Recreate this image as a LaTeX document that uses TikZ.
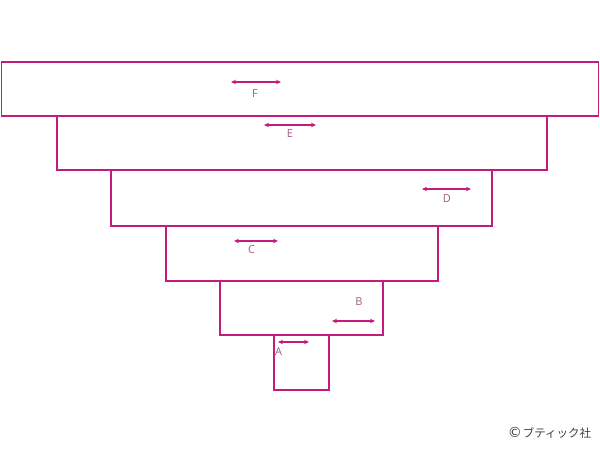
\documentclass[tikz,border=0pt]{standalone}
\usepackage{fontspec}
\setmainfont{Open Sans}
\newfontfamily\jpfont{Noto Sans CJK JP}
\newfontfamily\symfont{DejaVu Sans}
\usetikzlibrary{arrows.meta}
\definecolor{mag}{HTML}{C41C7C}
\definecolor{lab}{HTML}{A65A88}
\definecolor{cpr}{HTML}{404040}
\begin{document}
\begin{tikzpicture}[x=1pt,y=-1pt,
  tier/.style={draw=mag,line width=1.6pt,rectangle,inner sep=0pt,anchor=north west},
  dim/.style={draw=mag,line width=1.2pt,{Stealth[length=5pt,width=4.5pt]}-{Stealth[length=5pt,width=4.5pt]}},
  lbl/.style={text=lab,font=\fontsize{11}{11}\selectfont,inner sep=0pt}]
\useasboundingbox[fill=white] (0,0) rectangle (600,450);
% tiers
\node[tier,minimum width=597pt,minimum height=54pt] (tF) at (0.8,61) {};
\node[tier,minimum width=490pt,minimum height=54pt] (tE) at (56,115) {};
\node[tier,minimum width=381pt,minimum height=56pt] (tD) at (110,169) {};
\node[tier,minimum width=272pt,minimum height=55pt] (tC) at (165,225) {};
\node[tier,minimum width=163pt,minimum height=54pt] (tB) at (219,280) {};
\node[tier,minimum width=55pt,minimum height=55pt] (tA) at (273.3,334) {};
% arrows
\coordinate (f1) at (231,82); \coordinate (f2) at (281,82);
\coordinate (e1) at (264,125); \coordinate (e2) at (316,125);
\coordinate (d1) at (422,189); \coordinate (d2) at (471,189);
\coordinate (c1) at (234,241); \coordinate (c2) at (278,241);
\coordinate (b1) at (332,321); \coordinate (b2) at (375,321);
\coordinate (a1) at (278,342); \coordinate (a2) at (309,342);
\draw[dim] (f1) -- (f2);
\draw[dim] (e1) -- (e2);
\draw[dim] (d1) -- (d2);
\draw[dim] (c1) -- (c2);
\draw[dim] (b1) -- (b2);
\draw[dim] (a1) -- (a2);
% labels
\node[lbl] (lF) at (255,94) {F};
\node[lbl] (lE) at (290,134) {E};
\node[lbl] (lD) at (447,198.5) {D};
\node[lbl] (lC) at (251.5,249.5) {C};
\node[lbl] (lB) at (359,301.5) {B};
\node[lbl] (lA) at (278.7,351.5) {A};
% copyright
\node[text=cpr,font=\jpfont\fontsize{11.5}{11.5}\selectfont,inner sep=0pt] (cp) at (549.5,432.5) {{\symfont\fontsize{14}{14}\selectfont ©}\kern1pt ブティック社};
\end{tikzpicture}
\end{document}
